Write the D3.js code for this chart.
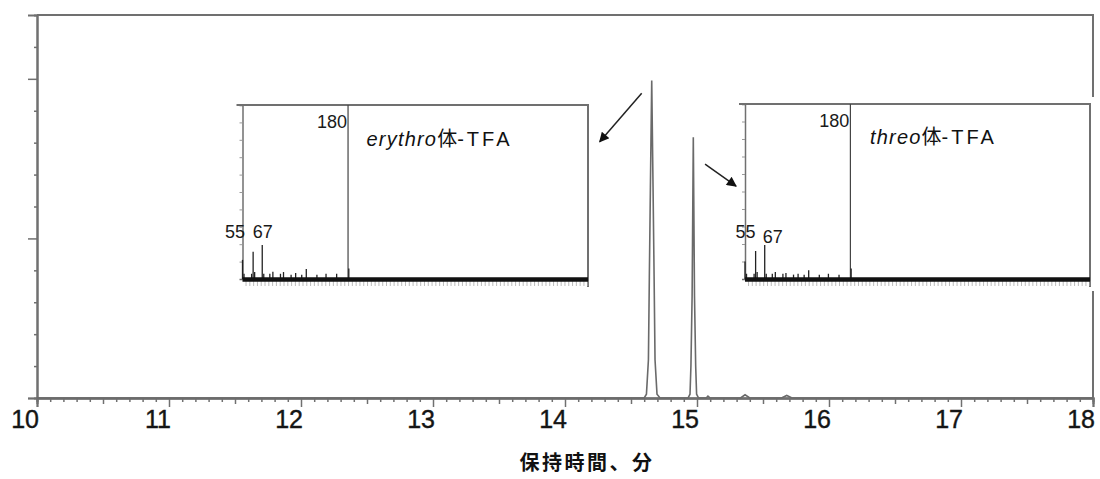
<!DOCTYPE html>
<html><head><meta charset="utf-8">
<script src="https://cdn.jsdelivr.net/npm/d3@7"></script>
<style>
html,body{margin:0;padding:0;background:#fff;}
svg{display:block;}
</style>
</head><body>
<svg id="chart" width="1100" height="479"></svg>
<script>
// ---------- data ----------
const xTickLabels = [10, 11, 12, 13, 14, 15, 16, 17, 18];
const xAxisTitle = "保持時間、分";

// chromatogram trace: retention time (min) / response (arbitrary units)
const traceTime = [10.00, 14.60, 14.617, 14.632, 14.639, 14.647, 14.657, 14.667, 14.675, 14.682, 14.697, 14.72,
                   14.93, 14.932, 14.947, 14.954, 14.963, 14.972, 14.981, 14.990, 14.997, 15.012, 15.03,
                   15.07, 15.083, 15.10, 15.33, 15.364, 15.40, 15.64, 15.68, 15.72, 18.00];
const traceValue = [0, 0, 0.12, 1.2, 3.8, 6.6, 9.95, 6.6, 3.8, 1.2, 0.12, 0,
                    0, 0, 0.12, 1.0, 3.2, 8.17, 3.2, 1.0, 0.12, 0, 0,
                    0, 0.06, 0, 0, 0.1, 0, 0, 0.08, 0, 0];

// mass spectra (m/z, relative intensity %)
const erythroMz  = [41, 43, 53, 55, 57, 67, 69, 77, 81, 91, 95, 105, 111, 119, 125, 139, 151, 165, 180, 181];
const erythroInt = [11, 3, 3, 15.7, 4, 19.5, 3, 3, 4.2, 3, 4, 2.5, 3.5, 2.5, 5.7, 2.5, 3, 3, 100, 6];
const threoMz    = [41, 43, 53, 55, 57, 67, 69, 77, 81, 91, 95, 105, 111, 119, 125, 139, 151, 165, 180, 181];
const threoInt   = [10, 3, 3, 16, 4, 19.5, 3, 3, 4, 3, 3.5, 2.5, 3, 2.5, 5, 2.5, 3, 2.5, 100, 6];
const insetTitles = [["erythro", "体-TFA"], ["threo", "体-TFA"]];
const labelledMz = [55, 67, 180];

// arrows (main chart data units): [t, y]
const arrowFrom = [[14.581, 9.55], [15.061, 7.33]];
const arrowTo   = [[14.263, 8.03], [15.296, 6.64]];

// ---------- layout ----------
const svg = d3.select("#chart");
const X0 = 37, X1 = 1093, YB = 398, YT = 15;
const x = d3.scaleLinear().domain([10, 18]).range([X0, X1]);
const y = d3.scaleLinear().domain([0, 12]).range([YB, YT]);
const GRAY = "#707070";

svg.append("defs").append("marker")
  .attr("id", "ah").attr("viewBox", "0 0 10 10").attr("refX", 9).attr("refY", 5)
  .attr("markerWidth", 13).attr("markerHeight", 10).attr("markerUnits", "userSpaceOnUse")
  .attr("orient", "auto")
  .append("path").attr("d", "M0,0 L10,5 L0,10 Z").attr("fill", "#111");

// frame (top + right)
svg.append("path")
  .attr("d", `M${X0},${YT} H${X1} V${YB}`)
  .attr("fill", "none").attr("stroke", GRAY).attr("stroke-width", 2);

// y axis
const yMinor = d3.range(0, 12);
const gy = svg.append("g").attr("transform", `translate(${X0},0)`);
gy.call(d3.axisLeft(y).tickValues(yMinor.filter(v => v % 5 !== 0)).tickSize(3).tickFormat(""));
gy.append("g").call(d3.axisLeft(y).tickValues([0, 5, 10]).tickSize(9).tickFormat(""));
gy.selectAll(".domain").attr("stroke", GRAY).attr("stroke-width", 2);
gy.selectAll("line").attr("stroke", GRAY).attr("stroke-width", 1.5);

// x axis
const gx = svg.append("g").attr("transform", `translate(0,${YB})`);
const tenths = d3.range(100, 181).map(v => v / 10);
gx.call(d3.axisBottom(x).tickValues(tenths.filter(v => Math.round(v * 10) % 5 !== 0)).tickSize(4).tickFormat(""));
gx.append("g").call(d3.axisBottom(x).tickValues(tenths.filter(v => Math.round(v * 10) % 10 === 5)).tickSize(6).tickFormat(""));
gx.append("g").call(d3.axisBottom(x).tickValues(xTickLabels).tickSize(9).tickFormat(""));
gx.selectAll(".domain").attr("stroke", GRAY).attr("stroke-width", 2);
gx.selectAll("line").attr("stroke", GRAY).attr("stroke-width", 1.5);

svg.append("g").selectAll("text").data(xTickLabels).join("text")
  .attr("x", d => x(d) + 2).attr("y", 428)
  .attr("text-anchor", "end")
  .attr("font-family", "'Liberation Sans Narrow','Liberation Sans',Arial,sans-serif")
  .attr("font-size", 25).attr("fill", "#151515")
  .attr("stroke", "#151515").attr("stroke-width", 0.4)
  .text(d => d);

svg.append("text")
  .attr("x", 587).attr("y", 470).attr("text-anchor", "middle")
  .attr("font-family", "'Noto Sans CJK JP',sans-serif").attr("font-weight", "bold")
  .attr("font-size", 20).attr("letter-spacing", 2.5).attr("fill", "#111")
  .text(xAxisTitle);

// trace
const traceData = traceTime.map((t, i) => [t, traceValue[i]]);
svg.append("path").datum(traceData)
  .attr("d", d3.line().x(d => x(d[0])).y(d => y(d[1])))
  .attr("fill", "none").attr("stroke", "#6a6a6a").attr("stroke-width", 1.6)
  .attr("stroke-linejoin", "miter");

// insets
const insets = [
  { x0: 242.5, x1: 588, top: 105, base: 279, mz: erythroMz, it: erythroInt, title: insetTitles[0],
    tdx: 124, tdy: 41, lab: { 55: [-18, 238], 67: [0.5, 238] } },
  { x0: 745, x1: 1090, top: 104, base: 279, mz: threoMz, it: threoInt, title: insetTitles[1],
    tdx: 125, tdy: 40, lab: { 55: [-10, 238], 67: [8, 243] } }
];

insets.forEach(ins => {
  const g = svg.append("g");
  const xi = d3.scaleLinear().domain([41, 496]).range([ins.x0, ins.x1]);
  const yi = d3.scaleLinear().domain([0, 100]).range([ins.base, ins.top]);

  g.append("rect").attr("x", ins.x0 - 10).attr("y", ins.top - 7)
    .attr("width", ins.x1 - ins.x0 + 17).attr("height", ins.base - ins.top + 19).attr("fill", "#fff");

  g.append("path").attr("d", `M${ins.x0 - 6},${ins.top} H${ins.x1} V${ins.base + 8}`)
    .attr("fill", "none").attr("stroke", GRAY).attr("stroke-width", 2);

  const gl = g.append("g").attr("transform", `translate(${ins.x0},0)`)
    .call(d3.axisLeft(yi).tickValues(d3.range(10, 100, 10)).tickSize(3).tickFormat(""));
  gl.selectAll(".domain").attr("stroke", GRAY).attr("stroke-width", 1.5);
  gl.selectAll("line").attr("stroke", "#999").attr("stroke-width", 1);

  const gb = g.append("g").attr("transform", `translate(0,${ins.base + 2})`)
    .call(d3.axisBottom(xi).tickValues(d3.range(45, 496, 5)).tickSize(5).tickFormat(""));
  gb.select(".domain").remove();
  gb.selectAll("line").attr("stroke", "#aaa").attr("stroke-width", 0.8);

  g.selectAll("line.stick").data(ins.mz.map((m, i) => [m, ins.it[i]])).join("line")
    .attr("class", "stick")
    .attr("x1", d => xi(d[0])).attr("x2", d => xi(d[0]))
    .attr("y1", yi(0)).attr("y2", d => yi(d[1]))
    .attr("stroke", d => d[1] > 50 ? "#444" : "#222").attr("stroke-width", d => d[1] > 50 ? 1.2 : 1.3);

  g.append("line").attr("x1", ins.x0).attr("x2", ins.x1)
    .attr("y1", yi(0) + 0.5).attr("y2", yi(0) + 0.5)
    .attr("stroke", "#111").attr("stroke-width", 4.5);

  labelledMz.forEach(m => {
    const t = g.append("text")
      .attr("font-family", "'Liberation Sans',Arial,sans-serif")
      .attr("font-size", 18).attr("fill", "#1a1a1a").text(m);
    if (m === 180) {
      t.attr("x", xi(m) - 1).attr("y", ins.top + 23).attr("text-anchor", "end");
    } else {
      t.attr("x", xi(m) + ins.lab[m][0]).attr("y", ins.lab[m][1]).attr("text-anchor", "middle");
    }
  });

  const tt = g.append("text").attr("x", ins.x0 + ins.tdx).attr("y", ins.top + ins.tdy)
    .attr("font-size", 20).attr("fill", "#111");
  tt.append("tspan").attr("font-family", "'Liberation Sans',Arial,sans-serif")
    .attr("font-style", "italic").attr("letter-spacing", 1.2).text(ins.title[0]);
  tt.append("tspan").attr("font-family", "'Noto Sans CJK JP',sans-serif").text(ins.title[1][0]);
  tt.append("tspan").attr("font-family", "'Liberation Sans',Arial,sans-serif")
    .attr("letter-spacing", 3).text(ins.title[1].slice(1));
});

// arrows
svg.append("g").selectAll("line").data(arrowFrom.map((f, i) => [f, arrowTo[i]])).join("line")
  .attr("x1", d => x(d[0][0])).attr("y1", d => y(d[0][1]))
  .attr("x2", d => x(d[1][0])).attr("y2", d => y(d[1][1]))
  .attr("stroke", "#222").attr("stroke-width", 1.5)
  .attr("marker-end", "url(#ah)");
</script>
</body></html>
